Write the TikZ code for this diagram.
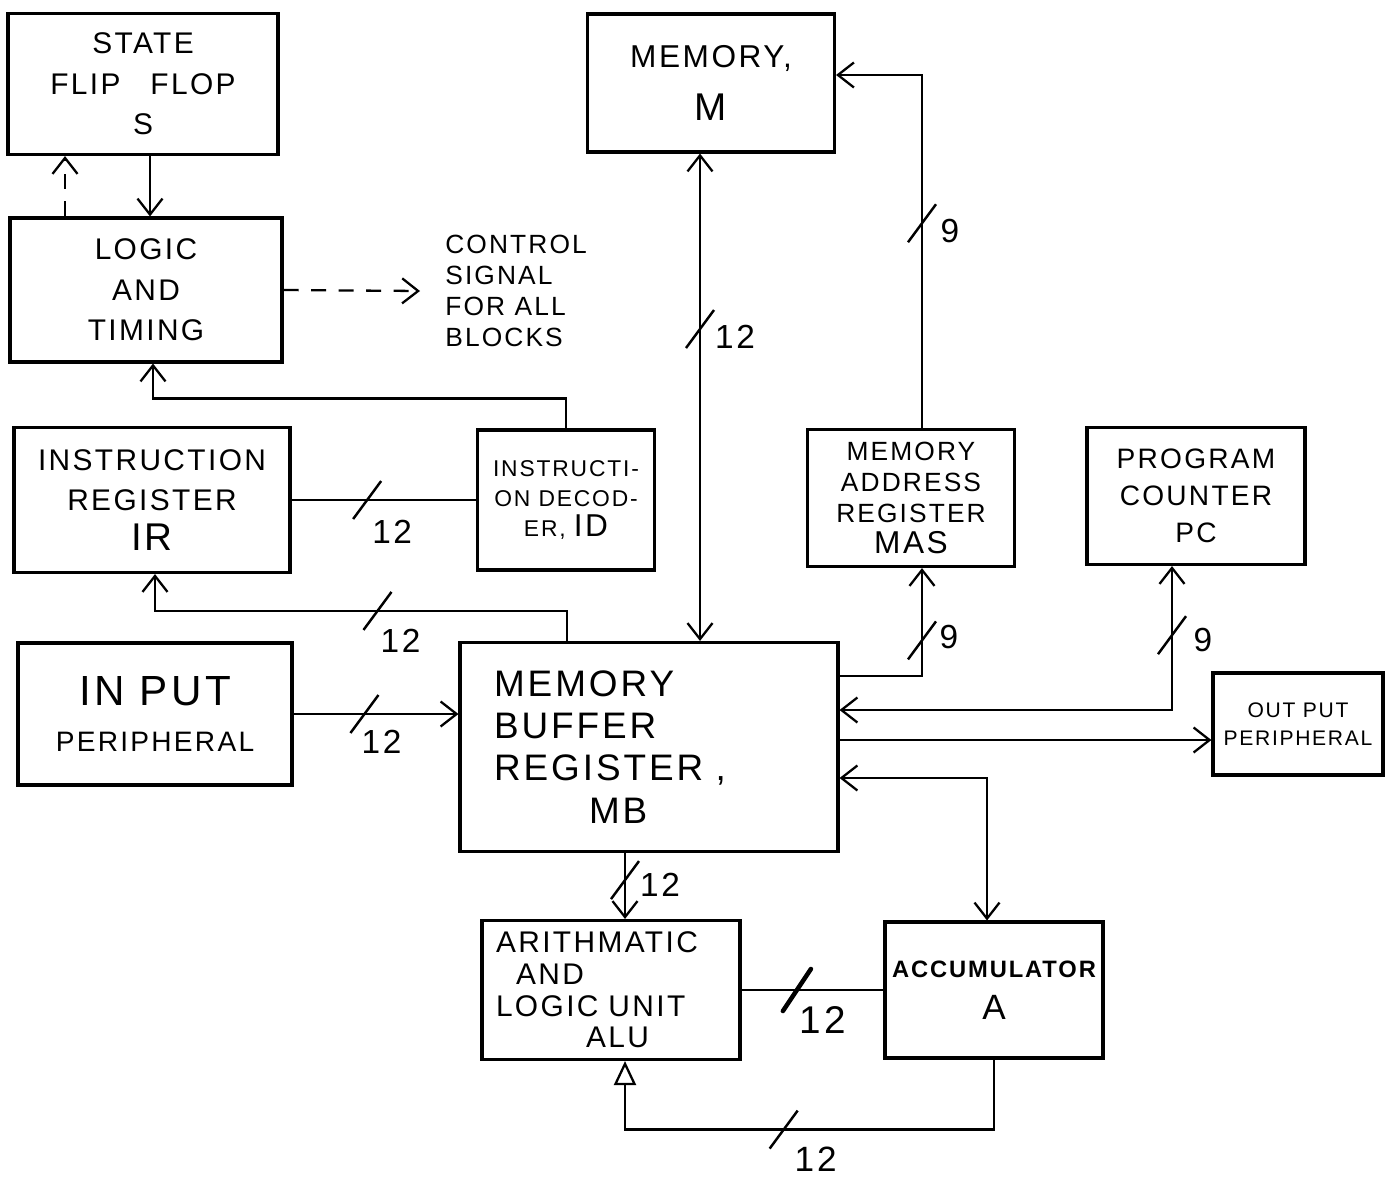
\documentclass[tikz,border=0pt]{standalone}
\usepackage{fontspec}
\setmainfont{Liberation Sans}[LetterSpace=8]
\usetikzlibrary{arrows.meta,positioning}

\begin{document}
\begin{tikzpicture}[
    x=0.02cm, y=-0.02cm,
    >={Straight Barb[length=0.32cm,width=0.5cm]},
    block/.style={rectangle, draw, line width=1.8pt, align=center, font=\fontsize{17}{23}\selectfont},
    wire/.style={line width=1.3pt},
    ctrl/.style={dash pattern=on 0.3cm off 0.25cm},
    buslabel/.style={font=\fontsize{19}{19}\selectfont, inner sep=0pt},
    pics/bus/.style={code={\draw[-, solid, line width=1.4pt] (-14,19) -- (14,-19);}},
    pics/thickbus/.style={code={\draw[-, solid, line width=2.6pt, line cap=round] (-14,21) -- (14,-21);}}
]
\useasboundingbox (0,0) rectangle (1395,1179);

% Control part
\node[block, minimum width=5.4cm, minimum height=2.82cm] (sff) at (143,84) {STATE\\FLIP\quad FLOP\\S};
\node[block, minimum width=5.44cm, minimum height=2.88cm] (logic) at (146,290) {LOGIC\\AND\\TIMING};
\node[anchor=west, inner xsep=0.5cm, align=left, font=\fontsize{15}{17.5}\selectfont] (sig) at (420,291) {CONTROL\\SIGNAL\\FOR ALL\\BLOCKS};
\node[block, minimum width=5.52cm, minimum height=2.9cm] (ir) at (152,500) {INSTRUCTION\\REGISTER\\{\fontsize{22}{22}\selectfont IR}};
\node[block, minimum width=3.54cm, minimum height=2.8cm, font=\fontsize{13}{17}\selectfont] (id) at (566,500) {INSTRUCTI-\\ON DECOD-\\ER, {\fontsize{18}{18}\selectfont ID}};

% Memory part
\node[block, minimum width=4.94cm, minimum height=2.76cm, font=\fontsize{18}{30}\selectfont] (mem) at (711,83) {MEMORY,\\{\fontsize{22}{22}\selectfont M}};
\node[block, minimum width=4.14cm, minimum height=2.74cm, font=\fontsize{15}{17.5}\selectfont] (mas) at (911,498) {MEMORY\\ADDRESS\\REGISTER\\{\fontsize{18}{18}\selectfont MAS}};
\node[block, minimum width=4.36cm, minimum height=2.74cm, font=\fontsize{16}{21}\selectfont] (pc) at (1196,496) {PROGRAM\\COUNTER\\PC};
\node[block, minimum width=7.56cm, minimum height=4.18cm, align=left, text width=6.2cm, font=\fontsize{21}{24}\selectfont] (mb) at (649,747) {MEMORY\\BUFFER\\REGISTER ,\\\hspace*{1.9cm}MB};

% Peripherals
\node[block, minimum width=5.48cm, minimum height=2.84cm, font=\fontsize{16}{20}\selectfont] (inp) at (155,714) {{\fontsize{24}{28}\selectfont IN PUT}\\[6pt]PERIPHERAL};
\node[block, minimum width=3.4cm, minimum height=2.04cm, font=\fontsize{12}{16}\selectfont] (outp) at (1298,724) {OUT PUT\\PERIPHERAL};

% Arithmetic part
\node[block, minimum width=5.16cm, minimum height=2.78cm, align=left, text width=4.6cm, font=\fontsize{17}{18}\selectfont] (alu) at (611,990) {ARITHMATIC\\\hspace*{0.4cm}AND\\LOGIC UNIT\\\hspace*{1.8cm}ALU};
\node[block, minimum width=4.36cm, minimum height=2.72cm, font=\fontsize{13.5}{16}\selectfont\bfseries] (acc) at (994,990) {ACCUMULATOR\\[8pt]{\fontsize{20}{20}\selectfont\mdseries A}};

% Control signals
\draw[wire, ->, ctrl] ([xshift=-1.62cm]logic.north) -- ([xshift=-1.62cm]logic.north |- sff.south);
\draw[wire, ->] ([xshift=0.14cm]sff.south) -- ([xshift=0.14cm]sff.south |- logic.north);
\draw[wire, ->, ctrl] (logic.east) -- (sig.west);
\draw[wire, ->] (id.north) -- ++(0,-30) -| ([xshift=0.14cm]logic.south);

% Buses
\draw[wire] (ir.east) -- (id.west) pic[pos=0.41]{bus} node[buslabel, pos=0.41, xshift=0.5cm, yshift=-0.64cm]{12};
\draw[wire, ->] ([xshift=-1.64cm]mb.north) -- ++(0,-30) -| ([xshift=0.06cm]ir.south) pic[pos=0.23]{bus} node[buslabel, pos=0.23, xshift=0.46cm, yshift=-0.6cm]{12};
\draw[wire, ->] (inp.east) -- (inp.east -| mb.west) pic[pos=0.43]{bus} node[buslabel, pos=0.43, xshift=0.34cm, yshift=-0.56cm]{12};
\draw[wire, <->] ([xshift=-0.22cm]mem.south) -- ([xshift=-0.22cm]mem.south |- mb.north) pic[pos=0.36]{bus} node[buslabel, pos=0.36, xshift=0.7cm, yshift=-0.16cm]{12};
\draw[wire, ->] ([xshift=0.22cm]mas.north) |- ([yshift=0.16cm]mem.east) pic[pos=0.29]{bus} node[buslabel, pos=0.29, xshift=0.56cm, yshift=-0.16cm]{9};
\draw[wire, ->] ([yshift=1.42cm]mb.east) -| ([xshift=0.22cm]mas.south) pic[pos=0.665]{bus} node[buslabel, pos=0.665, xshift=0.54cm, yshift=0.06cm]{9};
\draw[wire, <->] ([yshift=0.74cm]mb.east) -| ([xshift=-0.48cm]pc.south) pic[pos=0.76]{bus} node[buslabel, pos=0.76, xshift=0.62cm, yshift=-0.1cm]{9};
\draw[wire, ->] ([yshift=0.14cm]mb.east) -- ([yshift=0.14cm]mb.east -| outp.west);
\draw[wire, <->] ([yshift=-0.62cm]mb.east) -| ([xshift=-0.14cm]acc.north);
\draw[wire, ->] ([xshift=-0.48cm]mb.south) -- ([xshift=-0.48cm]mb.south |- alu.north) pic[pos=0.41]{bus} node[buslabel, pos=0.41, xshift=0.7cm, yshift=-0.1cm]{12};
\draw[wire] (alu.east) -- (alu.east -| acc.west) pic[pos=0.39]{thickbus} node[buslabel, font=\fontsize{22}{22}\selectfont, pos=0.39, xshift=0.52cm, yshift=-0.6cm]{12};
\draw[wire, -{Triangle[open, length=0.48cm, width=0.44cm]}] (acc.south) -- ++(0,70) -| ([xshift=0.28cm]alu.south) pic[pos=0.285]{bus} node[buslabel, font=\fontsize{20}{20}\selectfont, pos=0.285, xshift=0.64cm, yshift=-0.6cm]{12};

\end{tikzpicture}
\end{document}
